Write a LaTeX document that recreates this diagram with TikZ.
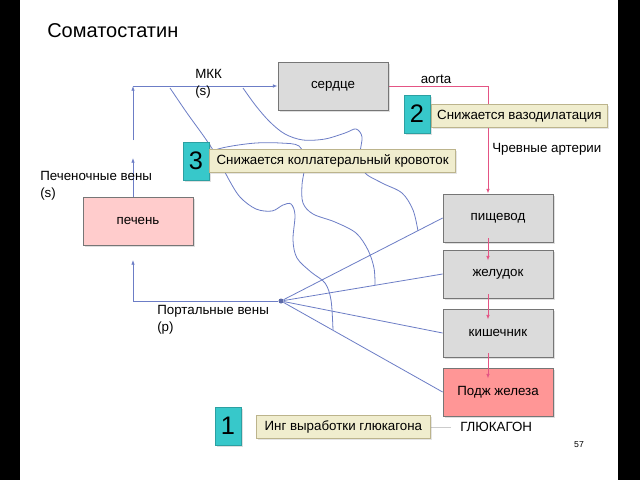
\documentclass[tikz,border=0pt]{standalone}
\usepackage{fontspec}
\setmainfont{Liberation Sans}
\usetikzlibrary{arrows.meta,shadows,backgrounds,positioning}
\definecolor{veinblue}{RGB}{108,125,198}
\definecolor{arteryred}{RGB}{228,84,132}
\definecolor{organgray}{RGB}{219,219,219}
\definecolor{organline}{RGB}{118,118,118}
\definecolor{liverpink}{RGB}{255,204,204}
\definecolor{pancpink}{RGB}{255,150,150}
\definecolor{tagteal}{RGB}{55,200,202}
\definecolor{notebeige}{RGB}{240,237,206}
\definecolor{noteline}{RGB}{188,180,140}
\newlength{\pxlen}
\setlength{\pxlen}{0.75pt}
\tikzset{
	>={Latex[length=3.5pt,width=2.6pt]},
	organ/.style={draw=organline,fill=organgray,line width=0.6pt,minimum width=110*\pxlen,minimum height=48*\pxlen,font=\fontsize{10}{12}\selectfont,drop shadow={shadow xshift=1.5pt,shadow yshift=-1.5pt,opacity=0.25}},
	tag/.style={draw=tagteal!80!black,fill=tagteal,line width=0.4pt,minimum width=26*\pxlen,minimum height=38*\pxlen,inner sep=0pt,font=\fontsize{19}{22}\selectfont,drop shadow={shadow xshift=1.5pt,shadow yshift=-1.5pt,opacity=0.25}},
	note/.style={draw=noteline,fill=notebeige,line width=0.5pt,minimum height=23*\pxlen,inner sep=0pt,font=\fontsize{10}{12}\selectfont,drop shadow={shadow xshift=1pt,shadow yshift=-1pt,opacity=0.2}},
	lbl/.style={inner sep=0pt,align=left,font=\fontsize{10}{12.75}\selectfont},
	vein/.style={draw=veinblue,line width=0.6pt},
	artery/.style={draw=arteryred,line width=0.6pt},
	collat/.style={draw=veinblue,line width=0.6pt,smooth,tension=0.55}
}
\begin{document}
\begin{tikzpicture}[x=0.75pt,y=-0.75pt]
	\useasboundingbox (0,0) rectangle (640,480);
	\node[anchor=west,inner sep=0pt,font=\fontsize{15}{18}\selectfont] (title) at (47,31) {Соматостатин};
	\node[organ] (serdce) at (333,86) {сердце};
	\node[organ,fill=liverpink] (liver) at (138,221) {печень};
	\node[organ] (pish) at (498,218) {пищевод};
	\node[organ] (zhel) at (498,274) {желудок};
	\node[organ] (kish) at (498,333) {кишечник};
	\node[organ,fill=pancpink] (podzh) at (498,392) {Подж железа};
	\node[tag] (tag3) at (196,161) {3};
	\node[note,minimum width=246*\pxlen,right=0pt of tag3] (note3) {Снижается коллатеральный кровоток};
	\node[tag] (tag2) at (417,114) {2};
	\node[note,minimum width=176*\pxlen,anchor=west] (note2) at (431,116) {Снижается вазодилатация};
	\node[tag] (tag1) at (228,426) {1};
	\node[note,minimum width=174*\pxlen,anchor=west] (note1) at (256,427) {Инг выработки глюкагона};
	\node[lbl,anchor=west] (glucagon) at (460,427) {ГЛЮКАГОН};
	\node[lbl,anchor=north west] (mkklabel) at (195,69) {МКК\\(s)};
	\node[lbl] (aorta) at (436,79) {aorta};
	\node[lbl,anchor=west] (celiaclabel) at (492,149) {Чревные артерии};
	\node[lbl,anchor=north west] (hvlabel) at (40,171) {Печеночные вены\\(s)};
	\node[lbl,anchor=north west] (pvlabel) at (157,305) {Портальные вены\\(p)};
	\node[inner sep=0pt,font=\fontsize{6.5}{8}\selectfont] (page) at (579,445) {57};
	\node[circle,fill=veinblue!85!black,inner sep=0pt,minimum size=5*\pxlen] (portal) at (281,301) {};
	\coordinate (mkk) at (133,86);
	\coordinate (hvtop) at (133,140);
	\coordinate (hvtip) at (133,158);
	\coordinate (pvtip) at (133,260);
	\coordinate (celiac) at (488,86);
	\begin{pgfonlayer}{background}
		\fill[white] (0,0) rectangle (640,480);
		\fill[black] (0,0) rectangle (20,480);
		\fill[black] (618,0) rectangle (640,480);
		\draw[collat] plot coordinates {(170,88) (187,113) (205,138) (218,158) (228,178) (240,197) (256,209) (272,211) (283,205) (291,204) (295,215) (293,240) (297,258) (311,272) (325,283) (331,300) (333,330)};
		\draw[collat] plot coordinates {(243,88) (256,106) (270,122) (285,134) (303,140) (325,139) (345,133) (356,129) (362,137) (360,155) (364,172) (382,183) (402,193) (413,210) (418,231)};
		\draw[collat] plot coordinates {(198,158) (215,150) (232,146) (256,143) (280,143) (299,146) (305,162) (302,185) (303,203) (313,214) (335,222) (356,233) (368,250) (374,268) (375,285)};
		\draw[vein,->] ([xshift=-5*\pxlen]liver.north) -- (hvtip);
		\draw[vein,->] (hvtop) -- (mkk);
		\draw[vein,->] (mkk) -- (serdce.west);
		\draw[vein,->] (portal) -| (pvtip);
		\foreach \organ in {pish,zhel,kish,podzh}
			\draw[vein] (portal) -- (\organ.west);
		\draw[artery,->] (serdce.east) -- (celiac) -- ([xshift=-10*\pxlen]pish.north);
		\draw[gray!40,line width=0.6pt,shorten >=7pt] (note1) -- (glucagon);
	\end{pgfonlayer}
	\foreach \upper/\lower in {pish/zhel,zhel/kish,kish/podzh}
		\draw[artery,->] ([xshift=-10*\pxlen,yshift=4*\pxlen]\upper.south) -- ([xshift=-10*\pxlen,yshift=-11*\pxlen]\lower.north);
\end{tikzpicture}
\end{document}
